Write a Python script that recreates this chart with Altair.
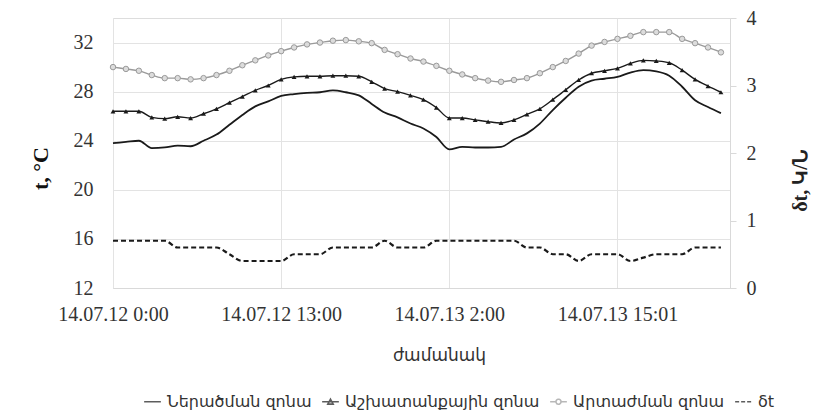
import altair as alt
import pandas as pd

# ---------------- data ----------------
hours = list(range(48))
x_tick_values = [0, 13, 26, 39]
x_tick_labels = ["14.07.12 0:00", "14.07.12 13:00", "14.07.13 2:00", "14.07.13 15:01"]
left_ticks = [12, 16, 20, 24, 28, 32]
right_ticks = [0, 1, 2, 3, 4]
series_names = ["Ներածման զոնա", "Աշխատանքային զոնա", "Արտաժման զոնա", "δt"]

inflow = [23.8, 23.9, 24.0, 23.4, 23.45, 23.6, 23.55, 24.0, 24.5, 25.3, 26.1, 26.8,
          27.2, 27.65, 27.8, 27.9, 27.95, 28.1, 27.95, 27.7, 27.0, 26.3, 25.9, 25.4,
          25.0, 24.3, 23.3, 23.5, 23.45, 23.45, 23.5, 24.1, 24.6, 25.4, 26.5, 27.5,
          28.4, 28.9, 29.05, 29.2, 29.55, 29.75, 29.65, 29.3, 28.4, 27.3, 26.75, 26.25]
working = [26.4, 26.4, 26.4, 25.9, 25.8, 25.95, 25.85, 26.2, 26.6, 27.1, 27.6, 28.1,
           28.5, 29.0, 29.2, 29.25, 29.25, 29.3, 29.3, 29.25, 28.8, 28.25, 28.0, 27.7,
           27.35, 26.7, 25.85, 25.85, 25.7, 25.55, 25.45, 25.7, 26.15, 26.6, 27.35, 28.15,
           28.95, 29.5, 29.7, 29.9, 30.3, 30.55, 30.5, 30.35, 29.75, 29.0, 28.45, 27.95]
exhaust = [30.0, 29.85, 29.7, 29.35, 29.1, 29.1, 29.0, 29.1, 29.35, 29.7, 30.15, 30.55,
           30.95, 31.3, 31.6, 31.85, 32.0, 32.15, 32.2, 32.1, 31.95, 31.4, 31.05, 30.7,
           30.45, 30.1, 29.7, 29.4, 29.1, 28.9, 28.8, 28.95, 29.1, 29.5, 30.0, 30.5,
           31.1, 31.75, 32.05, 32.3, 32.55, 32.85, 32.85, 32.85, 32.3, 31.95, 31.6, 31.2]
delta_t = [0.7, 0.7, 0.7, 0.7, 0.7, 0.6, 0.6, 0.6, 0.6, 0.5, 0.4, 0.4,
           0.4, 0.4, 0.5, 0.5, 0.5, 0.6, 0.6, 0.6, 0.6, 0.7, 0.6, 0.6,
           0.6, 0.7, 0.7, 0.7, 0.7, 0.7, 0.7, 0.7, 0.6, 0.6, 0.5, 0.5,
           0.4, 0.5, 0.5, 0.5, 0.4, 0.45, 0.5, 0.5, 0.5, 0.6, 0.6, 0.6]

# ---------------- tables ----------------
rows = []
for name, vals in zip(series_names[:3], [inflow, working, exhaust]):
    for h, v in zip(hours, vals):
        rows.append({"hour": h, "series": name, "temp": v})
df_long = pd.DataFrame(rows)
df_dt = pd.DataFrame({"hour": hours, "dt": delta_t})

label_expr = ("[" + ",".join("'" + l + "'" for l in x_tick_labels) + "]"
              + "[indexof(" + str(x_tick_values) + ", datum.value)]")

GRID = "#e3e3e3"
TXT = "#333333"

x_axis = alt.Axis(values=x_tick_values, labelExpr=label_expr, grid=True, gridColor=GRID,
                  ticks=False, domain=True, domainColor="#d9d9d9", labelFlush=False,
                  labelOverlap=False, labelFont="Liberation Serif", labelFontSize=20,
                  labelColor=TXT, labelPadding=16, title="ժամանակ", titleFont="DejaVu Sans",
                  titleFontSize=17, titleFontWeight="normal", titleColor=TXT,
                  titleX=326, titleY=67, titleAlign="center", titleBaseline="middle")
x_enc = alt.X("hour:Q", scale=alt.Scale(domain=[0, 47.7], nice=False, zero=False), axis=x_axis)

left_axis = alt.Axis(values=left_ticks, grid=True, gridColor=GRID, domain=False, ticks=False,
                     labelPadding=20, labelFont="Liberation Serif", labelFontSize=20,
                     labelColor=TXT, title="t, °C", titleFont="Liberation Serif",
                     titleFontSize=22, titleFontWeight="bold", titleColor="#111",
                     titleAngle=270, titleX=-73, titleY=150, titleAlign="center",
                     titleBaseline="middle")
y_left = alt.Y("temp:Q", scale=alt.Scale(domain=[12, 34], nice=False, zero=False), axis=left_axis)

right_axis = alt.Axis(orient="right", values=right_ticks, grid=False, domain=True,
                      domainColor="#d9d9d9", ticks=True, tickColor="#d9d9d9", tickSize=6,
                      labelPadding=10, labelFont="Liberation Serif", labelFontSize=20,
                      labelColor=TXT, title="δt, Կ/Ն", titleFont="Liberation Serif",
                      titleFontSize=20, titleFontWeight="bold", titleColor="#222",
                      titleAngle=270, titleX=70, titleY=162, titleAlign="center",
                      titleBaseline="middle")
y_right = alt.Y("dt:Q", scale=alt.Scale(domain=[0, 4], nice=False, zero=True), axis=right_axis)

base = alt.Chart(df_long)

def pick(i):
    return base.transform_filter(alt.datum.series == series_names[i])

inflow_line = pick(0).mark_line(color="#1a1a1a", strokeWidth=1.8, interpolate="monotone").encode(x=x_enc, y=y_left)
working_line = pick(1).mark_line(color="#1a1a1a", strokeWidth=1.4, interpolate="monotone").encode(x=x_enc, y=y_left)
working_pts = pick(1).mark_point(shape="triangle-up", filled=True, color="#1a1a1a", size=24, opacity=1).encode(x=x_enc, y=y_left)
exhaust_line = pick(2).mark_line(color="#9a9a9a", strokeWidth=1.4, interpolate="monotone").encode(x=x_enc, y=y_left)
exhaust_pts = pick(2).mark_point(shape="circle", filled=False, fill="#dcdcdc", stroke="#9a9a9a",
                                 strokeWidth=1, size=30, opacity=1).encode(x=x_enc, y=y_left)

legend_paths = [
    "M-1,0L1,0",
    "M-1,0L1,0M-0.32,0.28L0,-0.3L0.32,0.28Z",
    "M-1,0L-0.3,0M0.3,0L1,0M-0.3,0A0.3,0.3 0 1,0 0.3,0A0.3,0.3 0 1,0 -0.3,0",
    "M-1,0L1,0",
]
leg = alt.Legend(title=None, orient="none", legendX=30, legendY=374, direction="horizontal",
                 symbolSize=280, symbolStrokeWidth=1.6, labelFont="DejaVu Sans",
                 labelFontSize=16, labelColor=TXT, labelLimit=400, columnPadding=6,
                 labelOffset=5)
legend_layer = base.transform_filter("datum.hour < 0").mark_point(filled=False, strokeWidth=1.6).encode(
    x=x_enc, y=y_left,
    color=alt.Color("series:N", scale=alt.Scale(domain=series_names,
                    range=["#1a1a1a", "#1a1a1a", "#9a9a9a", "#1a1a1a"]), legend=leg),
    shape=alt.Shape("series:N", scale=alt.Scale(domain=series_names, range=legend_paths), legend=leg),
    strokeDash=alt.StrokeDash("series:N", scale=alt.Scale(domain=series_names,
                              range=[[1, 0], [1, 0], [1, 0], [4, 2]]), legend=leg),
)

temp_group = alt.layer(inflow_line, working_line, working_pts, exhaust_line, exhaust_pts, legend_layer)

dt_line = alt.Chart(df_dt).mark_line(color="#1a1a1a", strokeWidth=2.2, strokeDash=[5, 3],
                                     interpolate="monotone").encode(x=x_enc, y=y_right)

chart = alt.layer(temp_group, dt_line).resolve_scale(y="independent").properties(
    width=617, height=270,
    padding={"left": 105, "top": 10, "right": 94, "bottom": 123},
    autosize=alt.AutoSizeParams(type="none"),
).configure_view(stroke=None).configure(background="white")

chart.save("out.html", embed_options={"renderer": "svg", "actions": False})
